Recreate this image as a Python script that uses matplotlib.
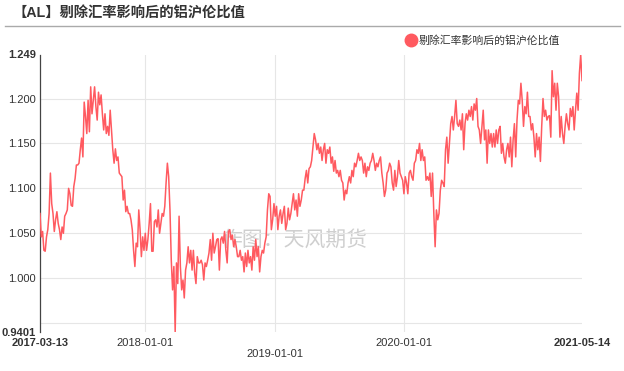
import matplotlib
matplotlib.use("Agg")
import matplotlib.pyplot as plt
from matplotlib.lines import Line2D
import pandas as pd

plt.rcParams["font.family"] = ["Liberation Sans", "Noto Sans CJK SC"]
plt.rcParams["axes.unicode_minus"] = False

RED = "#ff5a60"
GRID = "#e6e6e6"
TXT = "#333333"

START = "2017-03-13"
END = "2021-05-14"
TITLE = "【AL】剔除汇率影响后的铝沪伦比值"
SERIES = "剔除汇率影响后的铝沪伦比值"
WATERMARK = "作图：天风期货"

# 比值读数（按时间顺序，分段记录）
ratio_part1 = [1.072, 1.046, 1.052, 1.031, 1.030, 1.046, 1.054, 1.072, 1.117, 1.083,
               1.072, 1.052, 1.065, 1.074, 1.061, 1.054, 1.043, 1.057, 1.050, 1.069,
               1.072, 1.076, 1.100, 1.094, 1.081, 1.080, 1.102, 1.111, 1.126, 1.126,
               1.128, 1.143, 1.156, 1.135, 1.196, 1.180, 1.161, 1.198, 1.163, 1.213,
               1.183, 1.198, 1.213, 1.191, 1.176, 1.207, 1.193, 1.204, 1.183, 1.165,
               1.183, 1.161, 1.169, 1.159, 1.187, 1.165, 1.143, 1.128, 1.144, 1.131,
               1.135, 1.117, 1.115, 1.113]
ratio_part2 = [1.087, 1.098, 1.074, 1.080, 1.072, 1.072, 1.065, 1.054, 1.031, 1.013,
               1.039, 1.035, 1.076, 1.054, 1.024, 1.046, 1.031, 1.050, 1.031, 1.043,
               1.061, 1.083, 1.030, 1.030, 1.063, 1.065, 1.057, 1.076, 1.050, 1.061,
               1.072, 1.069, 1.080, 1.106, 1.128, 1.113, 1.076, 1.020, 0.987, 1.013,
               0.9401, 1.017, 0.994, 1.069, 1.013, 0.987, 0.998, 0.978, 1.009, 1.017,
               1.035, 1.017, 1.031, 1.009, 1.031, 1.006, 0.994, 1.024, 1.017, 1.017,
               1.020, 1.015, 0.998, 1.017, 1.013, 1.020, 1.028, 1.043, 1.020, 1.050,
               1.028, 1.035, 1.043]
ratio_part3 = [1.044, 1.009, 1.043, 1.046, 1.039, 1.052, 1.031, 1.017, 1.052, 1.054,
               1.043, 1.048, 1.035, 1.043, 1.035, 1.024, 1.024, 1.031, 1.020, 1.024,
               1.007, 1.028, 1.013, 1.031, 1.017, 1.024, 1.009, 1.035, 1.020, 1.043,
               1.024, 1.035, 1.007, 1.024, 1.031, 1.028, 1.039, 1.046, 1.076, 1.094,
               1.091, 1.054, 1.065, 1.083, 1.069, 1.080, 1.054, 1.069, 1.076, 1.061,
               1.072, 1.080, 1.054, 1.061, 1.078, 1.065, 1.072, 1.083, 1.094, 1.076,
               1.087, 1.069, 1.094, 1.080, 1.087, 1.098, 1.098, 1.111, 1.120]
ratio_part4 = [1.106, 1.122, 1.124, 1.131, 1.146, 1.161, 1.154, 1.143, 1.150, 1.139,
               1.146, 1.131, 1.143, 1.150, 1.128, 1.143, 1.139, 1.146, 1.128, 1.135,
               1.119, 1.131, 1.117, 1.120, 1.113, 1.120, 1.109, 1.106, 1.087, 1.098,
               1.094, 1.106, 1.113, 1.106, 1.120, 1.113, 1.128, 1.124, 1.131, 1.139,
               1.131, 1.135, 1.131, 1.117, 1.128, 1.113, 1.124, 1.120, 1.128, 1.131,
               1.139, 1.131, 1.120, 1.128, 1.124, 1.131, 1.135, 1.117, 1.106, 1.091,
               1.098, 1.117, 1.120, 1.128, 1.124, 1.106, 1.098, 1.120, 1.102, 1.113,
               1.131, 1.117, 1.113]
ratio_part5 = [1.109, 1.094, 1.113, 1.106, 1.094, 1.117, 1.120, 1.113, 1.109, 1.128,
               1.131, 1.143, 1.139, 1.150, 1.131, 1.143, 1.131, 1.135, 1.109, 1.113,
               1.109, 1.117, 1.091, 1.117, 1.072, 1.035, 1.076, 1.065, 1.072, 1.098,
               1.109, 1.106, 1.102, 1.143, 1.157, 1.128, 1.150, 1.172, 1.180, 1.165,
               1.180, 1.198, 1.172, 1.169, 1.176, 1.165, 1.183, 1.143, 1.172, 1.183,
               1.176, 1.187, 1.180, 1.191, 1.176, 1.194, 1.187, 1.200, 1.169, 1.165,
               1.150, 1.169, 1.187, 1.154, 1.165, 1.128, 1.165, 1.150, 1.161, 1.146,
               1.161]
ratio_part6 = [1.146, 1.165, 1.150, 1.165, 1.169, 1.139, 1.150, 1.135, 1.128, 1.143,
               1.150, 1.135, 1.157, 1.124, 1.154, 1.172, 1.135, 1.176, 1.198, 1.194,
               1.217, 1.198, 1.169, 1.191, 1.183, 1.207, 1.180, 1.180, 1.165, 1.172,
               1.157, 1.135, 1.161, 1.143, 1.157, 1.130, 1.169, 1.200, 1.180, 1.187,
               1.176, 1.180, 1.181, 1.157, 1.231, 1.202, 1.217, 1.187, 1.217, 1.202,
               1.157, 1.180, 1.161, 1.150, 1.169, 1.183, 1.172, 1.165, 1.189, 1.180,
               1.191, 1.165, 1.187, 1.206, 1.187, 1.228, 1.249, 1.220]

ratio = (ratio_part1 + ratio_part2 + ratio_part3
         + ratio_part4 + ratio_part5 + ratio_part6)
dates = pd.date_range(START, END, periods=len(ratio))

y_grid = [0.95, 1.00, 1.05, 1.10, 1.15, 1.20]
x_grid = ["2018-01-01", "2019-01-01", "2020-01-01"]

fig = plt.figure(figsize=(6.24, 3.71), dpi=100)
W, H = 624, 371
ax = fig.add_axes([40 / W, 1 - 332 / H, 542 / W, (332 - 54.5) / H])

ax.plot(dates, ratio, color=RED, lw=1.1, zorder=3)
ymin, ymax = min(ratio), max(ratio)
ax.set_xlim(dates[0], dates[-1])
ax.set_ylim(ymin, ymax)

# y 轴：网格刻度 + 首尾数值
ax.set_yticks(y_grid, [""] + [f"{v:.3f}" for v in y_grid[1:]])
ax.set_yticks([ymin, ymax], [f"{ymin:.4f}", f"{ymax:.3f}"], minor=True, fontweight="bold")
ax.yaxis.grid(True, which="major", color=GRID, lw=0.8, zorder=0)

# x 轴：年份网格 + 首尾日期
xt = pd.to_datetime(x_grid)
ax.set_xticks(xt, [x_grid[0], "\n" + x_grid[1], x_grid[2]])
ax.set_xticks([dates[0], dates[-1]], [START, END], minor=True, fontweight="bold")
ax.xaxis.grid(True, which="major", color=GRID, lw=0.8, zorder=0)

ax.tick_params(axis="both", which="both", length=0, labelsize=8, labelcolor=TXT)
ax.tick_params(axis="y", which="both", pad=3)
ax.tick_params(axis="x", which="both", pad=4)
for s in ["top", "right", "bottom"]:
    ax.spines[s].set_visible(False)
ax.spines["left"].set_color("#444444")
ax.spines["left"].set_linewidth(0.9)

# 标题与分隔线
fig.text(12 / W, 1 - 13 / H, TITLE, fontsize=10.3, fontweight="bold",
         color=TXT, va="center", ha="left")
fig.add_artist(Line2D([5 / W, 620 / W], [1 - 26 / H] * 2, color="#aaaaaa", lw=1))

# 图例
handle = Line2D([], [], marker="o", color=RED, ls="none", markersize=9)
fig.legend([handle], [SERIES], loc="center left", bbox_to_anchor=(406.5 / W, 1 - 40 / H),
           frameon=False, fontsize=7.8, handlelength=0.8, handletextpad=0.3,
           borderpad=0, borderaxespad=0, labelcolor=TXT)

# 水印
ax.text(294.5 / W, 1 - 240 / H, WATERMARK, transform=fig.transFigure, fontsize=15,
        color="#cfcfcf", ha="center", va="center", zorder=1)

fig.savefig("out.png", dpi=100, facecolor="white")
